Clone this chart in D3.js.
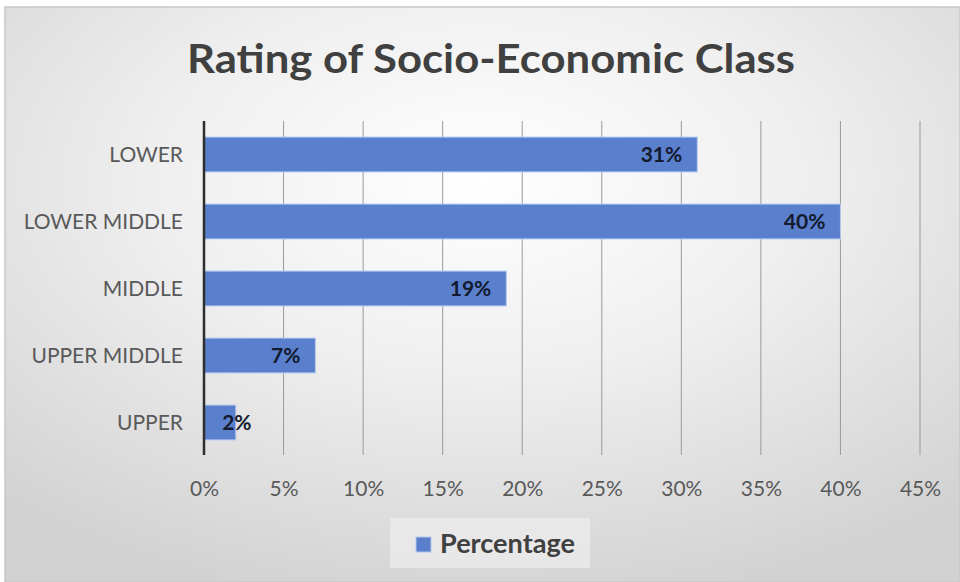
<!DOCTYPE html>
<html><head><meta charset="utf-8">
<script src="https://cdn.jsdelivr.net/npm/d3@7"></script>
<style>html,body{margin:0;padding:0;background:#fff}svg{display:block}</style>
</head><body>
<script>
const categories = ["LOWER","LOWER MIDDLE","MIDDLE","UPPER MIDDLE","UPPER"];
const values = [31,40,19,7,2];
const tickValues = [0,5,10,15,20,25,30,35,40,45];
const seriesName = "Percentage";
const title = "Rating of Socio-Economic Class";

const W=960,H=582;
const svg=d3.select("body").append("svg").attr("width",W).attr("height",H);
const defs=svg.append("defs");
const rg=defs.append("radialGradient").attr("id","bg").attr("cx","50%").attr("cy","30%").attr("r","75%");
rg.append("stop").attr("offset","0%").attr("stop-color","#ffffff");
rg.append("stop").attr("offset","45%").attr("stop-color","#efefef");
rg.append("stop").attr("offset","100%").attr("stop-color","#d2d2d2");
svg.append("rect").attr("x",5).attr("y",7).attr("width",W-5).attr("height",H-7)
  .attr("fill","url(#bg)").attr("stroke","#c8c8c8").attr("stroke-width",1.5);

const font="Lato, 'Open Sans', sans-serif";
svg.append("text").attr("x",491).attr("y",73).attr("text-anchor","middle")
  .attr("font-family",font).attr("font-weight","bold").attr("font-size",40)
  .attr("textLength",608).attr("lengthAdjust","spacingAndGlyphs")
  .attr("fill","#404040").text(title);

const x=d3.scaleLinear().domain([0,45]).range([204,920]);
const y=d3.scaleBand().domain(categories).range([121,456]).paddingInner(0.48).paddingOuter(0.24);

// gridlines
svg.append("g").selectAll("line").data(tickValues.slice(1)).join("line")
  .attr("x1",d=>x(d)).attr("x2",d=>x(d)).attr("y1",121).attr("y2",455)
  .attr("stroke","#9a9a9a").attr("stroke-width",1);

// bars
svg.append("g").selectAll("rect").data(values).join("rect")
  .attr("x",x(0)).attr("y",(d,i)=>y(categories[i]))
  .attr("width",d=>x(d)-x(0)).attr("height",y.bandwidth())
  .attr("fill","#5a7fcd").attr("stroke","#b4c8ee").attr("stroke-width",1);

// axis line
svg.append("line").attr("x1",x(0)).attr("x2",x(0)).attr("y1",121).attr("y2",455)
  .attr("stroke","#2e2e2e").attr("stroke-width",2.5);

// data labels
const pad=15;
svg.append("g").selectAll("text").data(values).join("text")
  .attr("y",(d,i)=>y(categories[i])+y.bandwidth()/2)
  .attr("dy","0.36em")
  .attr("font-family",font).attr("font-weight","bold").attr("font-size",21)
  .attr("fill","#141a2e").text(d=>d+"%")
  .each(function(d){
    const w=this.getComputedTextLength();
    const sel=d3.select(this);
    if(w+2*pad > x(d)-x(0)) sel.attr("text-anchor","middle").attr("x",x(d)+1);
    else sel.attr("text-anchor","end").attr("x",x(d)-pad);
  });

// category labels
const yAxis=svg.append("g").attr("transform","translate(183,0)")
  .call(d3.axisLeft(y).tickSize(0).tickPadding(0));
yAxis.select(".domain").remove();
yAxis.selectAll("text").attr("font-family",font).attr("font-size",21).attr("fill","#595959")
  .attr("dy","0.36em");

// x tick labels
const xAxis=svg.append("g").attr("transform","translate(0,455)")
  .call(d3.axisBottom(x).tickValues(tickValues).tickFormat(d=>d+"%").tickSize(0).tickPadding(0));
xAxis.select(".domain").remove();
xAxis.selectAll("text").attr("font-family",font).attr("font-size",21).attr("fill","#595959")
  .attr("y",33).attr("dy","0.36em");

// legend
const lg=svg.append("g");
lg.append("rect").attr("x",390).attr("y",518).attr("width",200).attr("height",50).attr("fill","#ececec").attr("opacity",0.75);
lg.append("rect").attr("x",416).attr("y",537).attr("width",15).attr("height",15).attr("fill","#5a7fcd")
  .attr("stroke","#b4c8ee").attr("stroke-width",1);
lg.append("text").attr("x",440).attr("y",544).attr("dy","0.36em")
  .attr("font-family",font).attr("font-weight","bold").attr("font-size",26)
  .attr("textLength",135).attr("lengthAdjust","spacingAndGlyphs")
  .attr("fill","#404040").text(seriesName);
</script>
</body></html>
